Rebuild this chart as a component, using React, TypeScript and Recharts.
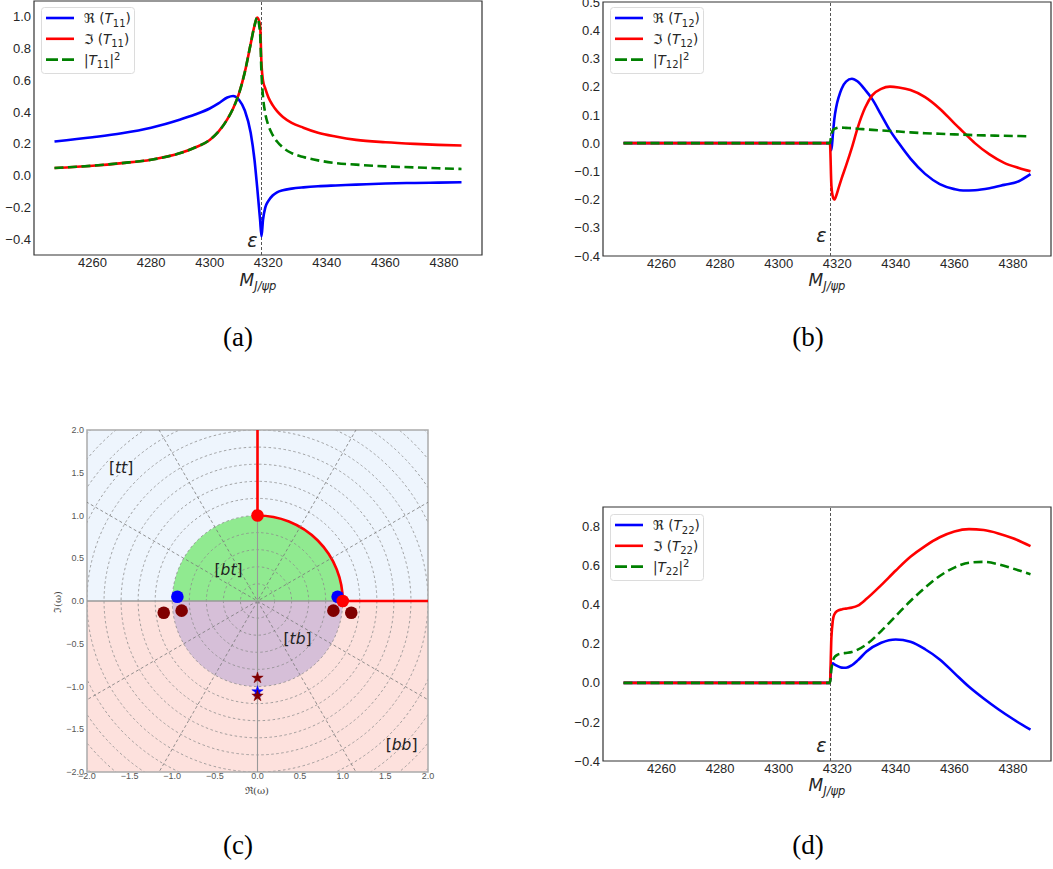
import React from "react";
import {
  LineChart,
  Line,
  XAxis,
  YAxis,
  ReferenceLine,
  ReferenceArea,
  ReferenceDot,
  ScatterChart,
  Scatter,
  Symbols,
} from "recharts";

// panel (a): T11
const massA = [4247, 4260, 4270, 4280, 4290, 4295, 4300, 4303, 4306, 4308, 4310, 4312, 4314, 4315.3, 4316.2, 4317.2, 4317.7, 4318.2, 4319, 4320, 4321.5, 4323, 4325, 4328, 4332, 4337, 4343, 4350, 4360, 4370, 4378, 4386];
const reT11 = [0.215, 0.242, 0.267, 0.302, 0.354, 0.385, 0.423, 0.455, 0.492, 0.502, 0.478, 0.41, 0.27, 0.1, -0.07, -0.275, -0.383, -0.28, -0.2, -0.16, -0.125, -0.105, -0.092, -0.082, -0.074, -0.067, -0.062, -0.057, -0.05, -0.046, -0.044, -0.042];
const imT11 = [0.048, 0.0625, 0.079, 0.1, 0.142, 0.177, 0.225, 0.277, 0.354, 0.423, 0.517, 0.652, 0.83, 0.944, 0.996, 0.95, 0.7, 0.6, 0.548, 0.496, 0.444, 0.406, 0.37, 0.333, 0.302, 0.27, 0.246, 0.225, 0.21, 0.2, 0.194, 0.19];
const absT11 = [0.048, 0.0625, 0.079, 0.1, 0.142, 0.177, 0.225, 0.277, 0.354, 0.423, 0.517, 0.652, 0.83, 0.944, 0.996, 0.9, 0.64, 0.5, 0.39, 0.319, 0.256, 0.215, 0.177, 0.142, 0.117, 0.096, 0.079, 0.069, 0.058, 0.052, 0.046, 0.042];

// panel (b): T12
const massB = [4247, 4260, 4280, 4300, 4310, 4317.5, 4318, 4318.5, 4319, 4319.7, 4320.5, 4321.5, 4323, 4325, 4327, 4329.5, 4332, 4335, 4338, 4341, 4345, 4350, 4355, 4360, 4363, 4367, 4372, 4377, 4382, 4386];
const reT12 = [0, 0, 0, 0, 0, 0, -0.025, 0.03, 0.085, 0.13, 0.163, 0.193, 0.218, 0.228, 0.218, 0.189, 0.155, 0.1, 0.045, 0.0, -0.055, -0.109, -0.145, -0.163, -0.168, -0.167, -0.16, -0.148, -0.135, -0.11];
const imT12 = [0, 0, 0, 0, 0, 0, -0.15, -0.19, -0.2, -0.185, -0.158, -0.125, -0.08, -0.016, 0.055, 0.125, 0.17, 0.192, 0.2, 0.197, 0.188, 0.163, 0.122, 0.07, 0.04, 0.0, -0.04, -0.07, -0.088, -0.1];
const absT12 = [0, 0, 0, 0, 0, 0, 0.03, 0.045, 0.05, 0.053, 0.055, 0.055, 0.054, 0.053, 0.051, 0.049, 0.047, 0.045, 0.043, 0.041, 0.038, 0.035, 0.033, 0.031, 0.03, 0.028, 0.027, 0.026, 0.025, 0.024];

// panel (d): T22
const massD = [4247, 4260, 4280, 4300, 4310, 4317.5, 4318, 4318.5, 4319, 4320, 4321.5, 4323, 4325, 4327, 4330, 4335, 4340, 4345, 4350, 4355, 4360, 4365, 4370, 4375, 4380, 4386];
const reT22 = [0, 0, 0, 0, 0, 0, 0.09, 0.1, 0.095, 0.087, 0.078, 0.077, 0.09, 0.115, 0.16, 0.205, 0.222, 0.21, 0.172, 0.12, 0.05, -0.02, -0.08, -0.135, -0.185, -0.24];
const imT22 = [0, 0, 0, 0, 0, 0, 0.23, 0.32, 0.35, 0.368, 0.376, 0.38, 0.385, 0.395, 0.43, 0.5, 0.575, 0.645, 0.7, 0.745, 0.775, 0.787, 0.782, 0.765, 0.74, 0.7];
const absT22 = [0, 0, 0, 0, 0, 0, 0.07, 0.11, 0.13, 0.143, 0.15, 0.153, 0.158, 0.17, 0.197, 0.265, 0.342, 0.419, 0.487, 0.547, 0.59, 0.615, 0.619, 0.607, 0.585, 0.556];

const massTicks = [4260, 4280, 4300, 4320, 4340, 4360, 4380];
const threshold = 4317.7;

// panel (c): omega plane
const omegaTicks = [-2, -1.5, -1, -0.5, 0, 0.5, 1, 1.5, 2];
const ringRadii = [0.2, 0.4, 0.6, 0.8, 1.0, 1.2, 1.4, 1.6, 1.8, 2.0, 2.2, 2.4, 2.6, 2.8];
const rayAngles = [30, 60, 120, 150];
const redPoints = [{ x: 0, y: 1 }, { x: 1.0, y: 0 }];
const bluePoles = [{ x: -0.94, y: 0.05 }, { x: 0.94, y: 0.05 }];
const maroonPoles = [{ x: -1.1, y: -0.137 }, { x: -0.89, y: -0.113 }, { x: 0.89, y: -0.113 }, { x: 1.1, y: -0.137 }];
const blueStars = [{ x: 0, y: -1.06 }];
const maroonStars = [{ x: 0, y: -0.9 }, { x: 0, y: -1.11 }];
const regionLabels = [
  { x: -1.6, y: 1.555, text: "tt" },
  { x: -0.34, y: 0.36, text: "bt" },
  { x: 0.47, y: -0.44, text: "tb" },
  { x: 1.69, y: -1.69, text: "bb" },
];

const BLUE = "#0000ff";
const RED = "#ff0000";
const GREEN = "#008000";
const MAROON = "#800000";
const MATH = "DejaVu Sans";

const fmt = (v: number) => (v < 0 ? "\u2212" + Math.abs(v).toFixed(1) : v.toFixed(1));

function zip(m: number[], re: number[], im: number[], abs: number[]) {
  return m.map((v, i) => ({ m: v, re: re[i], im: im[i], abs: abs[i] }));
}

type PanelProps = {
  rows: { m: number; re: number; im: number; abs: number }[];
  left: number;
  top: number;
  width: number;
  yAxisWidth: number;
  marginTop: number;
  xAxisHeight: number;
  yDomain: [number, number];
  yTicks: number[];
  epsY: number;
};

function TPanel(p: PanelProps) {
  const tick = { fontSize: 13, fill: "#262626", fontFamily: "Liberation Sans" };
  return (
    <div style={{ position: "absolute", left: p.left, top: p.top }}>
      <LineChart
        width={p.width}
        height={300}
        data={p.rows}
        margin={{ top: p.marginTop, right: 2, bottom: 0, left: 0 }}
      >
        <XAxis
          dataKey="m"
          type="number"
          domain={[4240, 4393]}
          ticks={massTicks}
          allowDataOverflow
          interval={0}
          axisLine={false}
          tickLine={false}
          tickSize={0}
          tickMargin={3}
          height={p.xAxisHeight}
          tick={tick}
        />
        <YAxis
          type="number"
          domain={p.yDomain}
          ticks={p.yTicks}
          allowDataOverflow
          interval={0}
          width={p.yAxisWidth}
          axisLine={false}
          tickLine={false}
          tickSize={0}
          tickMargin={3}
          tickFormatter={fmt}
          tick={tick}
        />
        <ReferenceLine x={threshold} stroke="#555" strokeDasharray="3 2" strokeWidth={1} />
        <Line dataKey="re" type="monotone" stroke={BLUE} strokeWidth={2.6} dot={false} isAnimationActive={false} />
        <Line dataKey="im" type="monotone" stroke={RED} strokeWidth={2.6} dot={false} isAnimationActive={false} />
        <Line
          dataKey="abs"
          type="monotone"
          stroke={GREEN}
          strokeWidth={2.6}
          strokeDasharray="9 4.5"
          dot={false}
          isAnimationActive={false}
        />
        <ReferenceDot
          x={threshold}
          y={p.epsY}
          r={1}
          shape={(s: any) => (
            <text x={s.cx - 4} y={s.cy} textAnchor="end" fontFamily={MATH} fontStyle="italic" fontSize={19} fill="#222">
              ε
            </text>
          )}
        />
        <ReferenceArea
          x1={4240}
          x2={4393}
          y1={p.yDomain[0]}
          y2={p.yDomain[1]}
          fill="none"
          stroke="#333"
          strokeWidth={1.2}
        />
      </LineChart>
    </div>
  );
}

const dotShape = (color: string) => (s: any) => <circle cx={s.cx} cy={s.cy} r={6.3} fill={color} />;
const starShape = (color: string) => (s: any) => (
  <Symbols type="star" size={40} cx={s.cx} cy={s.cy} fill={color} stroke={color} strokeWidth={0.5} />
);

function OmegaPanel() {
  const tick = { fontSize: 9, fill: "#555", fontFamily: "Liberation Sans" };
  return (
    <div style={{ position: "absolute", left: 50, top: 420 }}>
      <ScatterChart width={394} height={380} margin={{ top: 10, right: 16, bottom: 0, left: 0 }}>
        <XAxis
          dataKey="x"
          type="number"
          domain={[-2, 2]}
          ticks={omegaTicks}
          allowDataOverflow
          interval={0}
          axisLine={false}
          tickLine={false}
          tickSize={0}
          tickMargin={1}
          height={28}
          tickFormatter={fmt}
          tick={tick}
        />
        <YAxis
          dataKey="y"
          type="number"
          domain={[-2, 2]}
          ticks={omegaTicks}
          allowDataOverflow
          interval={0}
          width={37}
          axisLine={false}
          tickLine={false}
          tickSize={0}
          tickMargin={3}
          tickFormatter={fmt}
          tick={tick}
        />
        <ReferenceArea x1={-2} x2={2} y1={0} y2={2} fill="#eef5fd" fillOpacity={1} />
        <ReferenceArea x1={-2} x2={2} y1={-2} y2={0} fill="#fde1dd" fillOpacity={1} />
        <ReferenceArea
          x1={-1}
          x2={1}
          y1={0}
          y2={1}
          shape={(s: any) => (
            <path
              d={`M${s.x},${s.y + s.height} A${s.width / 2},${s.height} 0 0 1 ${s.x + s.width},${s.y + s.height} Z`}
              fill="#90ea90"
            />
          )}
        />
        <ReferenceArea
          x1={-1}
          x2={1}
          y1={-1}
          y2={0}
          shape={(s: any) => (
            <path
              d={`M${s.x},${s.y} A${s.width / 2},${s.height} 0 0 0 ${s.x + s.width},${s.y} Z`}
              fill="#d6bfd8"
            />
          )}
        />
        {ringRadii.map((r) => (
          <ReferenceArea
            key={"ring" + r}
            x1={-r}
            x2={r}
            y1={-r}
            y2={r}
            ifOverflow="hidden"
            shape={(s: any) => (
              <ellipse
                cx={s.x + s.width / 2}
                cy={s.y + s.height / 2}
                rx={s.width / 2}
                ry={s.height / 2}
                fill="none"
                stroke="#8c8c8c"
                strokeWidth={0.8}
                strokeDasharray="2.5 2.5"
                clipPath={s.clipPath}
              />
            )}
          />
        ))}
        {rayAngles.map((a) => {
          const c = Math.cos((a * Math.PI) / 180) * 3;
          const sn = Math.sin((a * Math.PI) / 180) * 3;
          return (
            <ReferenceLine
              key={"ray" + a}
              segment={[{ x: -c, y: -sn }, { x: c, y: sn }]}
              ifOverflow="hidden"
              stroke="#777"
              strokeWidth={0.8}
              strokeDasharray="3 2.5"
            />
          );
        })}
        <ReferenceLine x={0} stroke="#999" strokeWidth={1.1} />
        <ReferenceLine y={0} stroke="#999" strokeWidth={1.7} />
        <ReferenceLine segment={[{ x: 0, y: 1 }, { x: 0, y: 2 }]} stroke={RED} strokeWidth={2.6} />
        <ReferenceLine segment={[{ x: 1, y: 0 }, { x: 2, y: 0 }]} stroke={RED} strokeWidth={2.6} />
        <ReferenceArea
          x1={0}
          x2={1}
          y1={0}
          y2={1}
          shape={(s: any) => (
            <path
              d={`M${s.x},${s.y} A${s.width},${s.height} 0 0 1 ${s.x + s.width},${s.y + s.height}`}
              fill="none"
              stroke={RED}
              strokeWidth={2.6}
            />
          )}
        />
        <ReferenceArea x1={-2} x2={2} y1={-2} y2={2} fill="none" stroke="#aaa" strokeWidth={1.5} />
        <Scatter data={bluePoles} fill={BLUE} shape={dotShape(BLUE)} isAnimationActive={false} />
        <Scatter data={redPoints} fill={RED} shape={dotShape(RED)} isAnimationActive={false} />
        <Scatter data={maroonPoles} fill={MAROON} shape={dotShape(MAROON)} isAnimationActive={false} />
        <Scatter data={blueStars} fill={BLUE} shape={starShape(BLUE)} isAnimationActive={false} />
        <Scatter data={maroonStars} fill={MAROON} shape={starShape(MAROON)} isAnimationActive={false} />
        {regionLabels.map((l) => (
          <ReferenceDot
            key={l.text}
            x={l.x}
            y={l.y}
            r={1}
            shape={(s: any) => (
              <text
                x={s.cx}
                y={s.cy}
                textAnchor="middle"
                dominantBaseline="central"
                fontFamily={MATH}
                fontSize={15.5}
                fill="#222"
              >
                [<tspan fontStyle="italic">{l.text}</tspan>]
              </text>
            )}
          />
        ))}
      </ScatterChart>
    </div>
  );
}

function LegendBox({ x, y, sub }: { x: number; y: number; sub: string }) {
  const rows = [
    { color: BLUE, dash: undefined as string | undefined, kind: "\u211C" },
    { color: RED, dash: undefined as string | undefined, kind: "\u2111" },
    { color: GREEN, dash: "12 4", kind: "abs" },
  ];
  return (
    <g transform={`translate(${x},${y})`}>
      <rect x={0.5} y={0.5} width={93} height={66} rx={3} fill="#fff" fillOpacity={0.85} stroke="#dcdcdc" />
      {rows.map((r, i) => {
        const cy = 11 + i * 20.8;
        return (
          <g key={i}>
            <line x1={5} x2={33} y1={cy} y2={cy} stroke={r.color} strokeWidth={2.6} strokeDasharray={r.dash} />
            {r.kind === "abs" ? (
              <text x={43} y={cy + 5} fontFamily={MATH} fontSize={13.5} fill="#262626">
                |<tspan fontStyle="italic">T</tspan>
                <tspan fontSize={10} dy={3.5}>{sub}</tspan>
                <tspan dy={-3.5}>|</tspan>
                <tspan fontSize={10} dy={-5}>2</tspan>
              </text>
            ) : (
              <text x={43} y={cy + 5} fontFamily={MATH} fontSize={13.5} fill="#262626">
                {r.kind} (<tspan fontStyle="italic">T</tspan>
                <tspan fontSize={10} dy={3.5}>{sub}</tspan>
                <tspan dy={-3.5}>)</tspan>
              </text>
            )}
          </g>
        );
      })}
    </g>
  );
}

function MassLabel({ x, y }: { x: number; y: number }) {
  return (
    <text x={x} y={y} textAnchor="middle" fontFamily={MATH} fontSize={17} fill="#262626">
      <tspan fontStyle="italic">M</tspan>
      <tspan fontSize={11.5} dy={4} fontStyle="italic">
        J/ψp
      </tspan>
    </text>
  );
}

export default function App() {
  const panelLabel = { fontFamily: "Liberation Serif", fontSize: 27, fill: "#000", textAnchor: "middle" as const };
  return (
    <div
      style={{ position: "absolute", left: 0, top: 0, width: 1053, height: 869, background: "#fff", overflow: "hidden" }}
    >
      <TPanel
        rows={zip(massA, reT11, imT11, absT11)}
        left={0}
        top={0}
        width={484}
        yAxisWidth={34}
        marginTop={1}
        xAxisHeight={45}
        yDomain={[-0.5, 1.1]}
        yTicks={[-0.4, -0.2, 0, 0.2, 0.4, 0.6, 0.8, 1.0]}
        epsY={-0.45}
      />
      <TPanel
        rows={zip(massB, reT12, imT12, absT12)}
        left={566}
        top={0}
        width={487}
        yAxisWidth={37}
        marginTop={2}
        xAxisHeight={44}
        yDomain={[-0.4, 0.5]}
        yTicks={[-0.4, -0.3, -0.2, -0.1, 0, 0.1, 0.2, 0.3, 0.4, 0.5]}
        epsY={-0.35}
      />
      <TPanel
        rows={zip(massD, reT22, imT22, absT22)}
        left={566}
        top={505}
        width={487}
        yAxisWidth={37}
        marginTop={2}
        xAxisHeight={44}
        yDomain={[-0.4, 0.9]}
        yTicks={[-0.4, -0.2, 0, 0.2, 0.4, 0.6, 0.8]}
        epsY={-0.354}
      />
      <OmegaPanel />
      <svg
        width={1053}
        height={869}
        style={{ position: "absolute", left: 0, top: 0, pointerEvents: "none" }}
      >
        <LegendBox x={41} y={7} sub="11" />
        <LegendBox x={610} y={7} sub="12" />
        <LegendBox x={610} y={514} sub="22" />
        <MassLabel x={258} y={286} />
        <MassLabel x={827} y={286} />
        <MassLabel x={827} y={791} />
        <text x={257} y={794} textAnchor="middle" fontFamily="DejaVu Serif" fontSize={10} fill="#444">
          ℜ(ω)
        </text>
        <text
          x={61}
          y={602}
          textAnchor="middle"
          fontFamily="DejaVu Serif"
          fontSize={10}
          fill="#444"
          transform="rotate(-90 61 602)"
        >
          ℑ(ω)
        </text>
        <text x={238} y={346} {...panelLabel}>(a)</text>
        <text x={808} y={346} {...panelLabel}>(b)</text>
        <text x={238} y={854} {...panelLabel}>(c)</text>
        <text x={808} y={854} {...panelLabel}>(d)</text>
      </svg>
    </div>
  );
}
